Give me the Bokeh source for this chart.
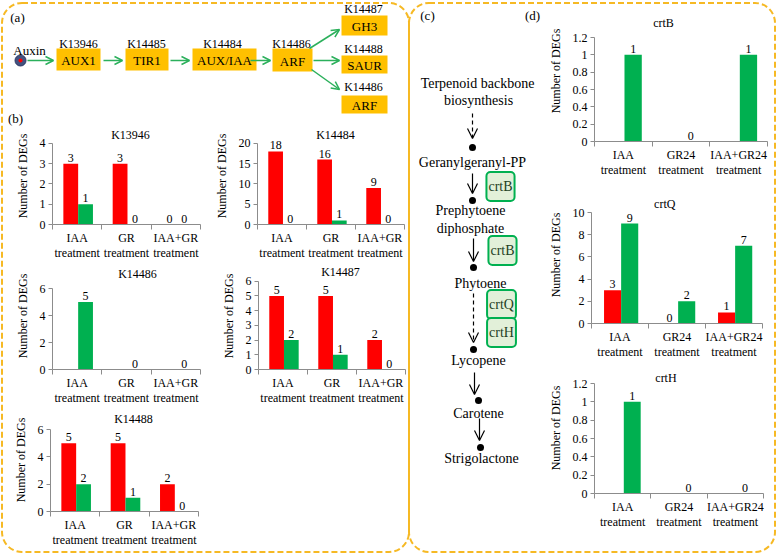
from bokeh.plotting import figure
from bokeh.models import (Range1d, FixedTicker, ColumnDataSource, LabelSet, Label,
                          Arrow, OpenHead)
from bokeh.layouts import row, column
from bokeh.embed import file_html
from bokeh.resources import INLINE
from bokeh.core.properties import value

# ---------------- data ----------------
b_categories = ["IAA\ntreatment", "GR\ntreatment", "IAA+GR\ntreatment"]
d_categories = ["IAA\ntreatment", "GR24\ntreatment", "IAA+GR24\ntreatment"]

K13946_red = [3, 3, 0]
K13946_green = [1, 0, 0]
K14484_red = [18, 16, 9]
K14484_green = [0, 1, 0]
K14486_red = None
K14486_green = [5, 0, 0]
K14487_red = [5, 5, 2]
K14487_green = [2, 1, 0]
K14488_red = [5, 5, 2]
K14488_green = [2, 1, 0]
crtB_red = None
crtB_green = [1, 0, 1]
crtQ_red = [3, 0, 1]
crtQ_green = [9, 2, 7]
crtH_red = None
crtH_green = [1, 0, 0]

ticks_K13946 = [0, 1, 2, 3, 4]
ticks_K14484 = [0, 5, 10, 15, 20]
ticks_K14486 = [0, 2, 4, 6]
ticks_K14487 = [0, 1, 2, 3, 4, 5, 6]
ticks_K14488 = [0, 2, 4, 6]
ticks_crtB = [0, 0.2, 0.4, 0.6, 0.8, 1, 1.2]
ticks_crtQ = [0, 2, 4, 6, 8, 10]
ticks_crtH = [0, 0.2, 0.4, 0.6, 0.8, 1, 1.2]

# pathway (a)
a_boxes_text = ["AUX1", "TIR1", "AUX/IAA", "ARF", "GH3", "SAUR", "ARF"]
a_boxes_left = [56, 125, 192, 272, 341, 341, 341]
a_boxes_right = [100, 168, 256, 312, 387, 387, 387]
a_boxes_top = [48, 48, 48, 48, 15, 55, 95]
a_boxes_bottom = [70, 70, 70, 71, 35, 73, 113]
a_knames = ["K13946", "K14485", "K14484", "K14486", "K14487", "K14488", "K14486"]
a_kx = [78, 146, 222, 291, 363, 363, 363]
a_ky = [43, 43, 43, 43, 8, 48, 86]
a_arrows = [(27, 60, 53, 60), (103, 60, 122, 60), (170, 60, 189, 60), (250, 60, 270, 60),
            (309, 48, 339, 29), (313, 60, 339, 60), (311, 69, 339, 89)]

# pathway (c)
c_texts = ["Terpenoid backbone", "biosynthesis", "Geranylgeranyl-PP", "Prephytoene",
           "diphosphate", "Phytoene", "Lycopene", "Carotene", "Strigolactone"]
c_tx = [477, 478, 472, 470, 470, 480, 478, 478, 481]
c_ty = [83, 100, 162, 210, 228, 283, 360, 413, 458]
c_dot_x = [472, 472, 473, 473, 478, 480]
c_dot_y = [147, 200, 267, 349, 400, 447]
c_arrows = [(472, 113, 138, True), (472, 173, 193, False), (473, 238, 261, False),
            (473, 293, 342, True), (474, 372, 394, False), (479, 418, 440, False)]
c_enzymes = ["crtB", "crtB", "crtQ", "crtH"]
c_ex = [500, 502, 501, 501]
c_ey = [186, 250, 304, 332]

# ---------------- style ----------------
FONT = "'Liberation Serif'"
RED = "#FF0000"
GREEN = "#00B050"
AXIS_GREY = "#8C8C8C"
GOLD = "#FFC000"
ARROW_GREEN = "#2BB05B"
BORDER_GOLD = "%23F6B924"


def canvas(x0, x1, y0, y1):
    p = figure(width=x1 - x0, height=y1 - y0, x_range=Range1d(x0, x1), y_range=Range1d(y1, y0),
               min_border=0, x_axis_location=None, y_axis_location=None,
               outline_line_color=None, toolbar_location=None, output_backend="svg",
               background_fill_color=None, border_fill_color=None)
    p.grid.visible = False
    return p


def bar_chart(title, cats, red, green, yticks, fig_box, fx0, fx1, y0_px, ymax_px, title_xy):
    x0, x1, y0, y1 = fig_box
    n = len(cats)
    ymax = yticks[-1]
    per_unit = (y0_px - ymax_px) / ymax
    y_end = ymax + (ymax_px - y0) / per_unit
    cat_w = (fx1 - fx0) / n
    p = figure(width=x1 - x0, height=y1 - y0, x_range=Range1d(0, n), y_range=Range1d(0, y_end),
               min_border_left=fx0 - x0, min_border_right=x1 - fx1,
               min_border_top=0, min_border_bottom=y1 - y0_px,
               outline_line_color=None, toolbar_location=None, output_backend="svg",
               background_fill_color=None, border_fill_color=None)
    p.grid.visible = False

    centers = [i + 0.5 for i in range(n)]
    p.xaxis.ticker = FixedTicker(ticks=centers, minor_ticks=list(range(n + 1)))
    p.xaxis.major_label_overrides = {c: t for c, t in zip(centers, cats)}
    p.xaxis.major_tick_out = 0
    p.xaxis.major_tick_in = 0
    p.xaxis.minor_tick_out = 5
    p.xaxis.minor_tick_in = 0
    p.xaxis.minor_tick_line_color = AXIS_GREY
    p.xaxis.axis_line_color = AXIS_GREY
    p.xaxis.major_label_standoff = 1
    p.xaxis.axis_label_standoff = 0
    p.xaxis.major_label_text_line_height = 1.1

    p.yaxis.ticker = FixedTicker(ticks=yticks)
    p.yaxis.bounds = (0, ymax)
    p.yaxis.major_label_overrides = {t: f"{t:g}" for t in yticks}
    p.yaxis.major_tick_out = 4
    p.yaxis.major_tick_in = 0
    p.yaxis.minor_tick_out = 0
    p.yaxis.major_tick_line_color = AXIS_GREY
    p.yaxis.axis_line_color = AXIS_GREY
    p.yaxis.major_label_standoff = 3
    p.yaxis.axis_label = "Number of DEGs"
    p.yaxis.axis_label_standoff = 7
    p.yaxis.axis_label_text_font = FONT
    p.yaxis.axis_label_text_font_style = "normal"
    p.yaxis.axis_label_text_font_size = "12px"
    p.yaxis.axis_label_text_color = "black"
    for ax in (p.xaxis, p.yaxis):
        ax.major_label_text_font = FONT
        ax.major_label_text_font_size = "12px"
        ax.major_label_text_color = "black"

    for vals, col, shift in ((red, RED, -0.13), (green, GREEN, 0.17)):
        if vals is None:
            continue
        src = ColumnDataSource(dict(x=[c + shift for c in centers], top=vals,
                                    label=[str(v) for v in vals]))
        p.vbar(x="x", top="top", width=0.3, source=src, fill_color=col, line_color=None)
        p.add_layout(LabelSet(x="x", y="top", text="label", source=src, y_offset=2,
                              text_align="center", text_baseline="bottom",
                              text_font=value(FONT), text_font_size="12px",
                              text_color="black"))
    # chart title, drawn inside the (extended) frame
    tx, ty = title_xy
    p.text(x=[(tx - fx0) / cat_w], y=[(y0_px - ty) / per_unit], text=[title],
           text_align="center", text_baseline="middle", text_font=value(FONT),
           text_font_size="12px", text_color="black")
    return p


# ---------------- panel (a) ----------------
fa = canvas(0, 409, 0, 127)
fa.quad(left=a_boxes_left, right=a_boxes_right, top=a_boxes_top, bottom=a_boxes_bottom,
        fill_color=GOLD, line_color=None)
fa.text(x=[(l + r) / 2 for l, r in zip(a_boxes_left, a_boxes_right)],
        y=[(t + b) / 2 + 1 for t, b in zip(a_boxes_top, a_boxes_bottom)],
        text=a_boxes_text, text_align="center", text_baseline="middle",
        text_font=value(FONT), text_font_size="13px", text_color="black")
fa.text(x=a_kx, y=a_ky, text=a_knames, text_align="center", text_baseline="middle",
        text_font=value(FONT), text_font_size="12px", text_color="black")
for xs, ys, xe, ye in a_arrows:
    fa.add_layout(Arrow(x_start=xs, y_start=ys, x_end=xe, y_end=ye,
                        line_color=ARROW_GREEN, line_width=1.5,
                        end=OpenHead(size=8, line_color=ARROW_GREEN, line_width=1.5)))
fa.scatter([20], [60], size=11, fill_color="#44527F", line_color="#2E3A66")
fa.scatter([20], [60], size=4, fill_color="#FF0000", line_color=None)
fa.text(x=[29, 17, 15], y=[50, 17, 118], text=["Auxin", "(a)", "(b)"], text_align="center",
        text_baseline="middle", text_font=value(FONT), text_font_size="13px",
        text_color="black")

# ---------------- panel (b) ----------------
c1 = bar_chart("K13946", b_categories, K13946_red, K13946_green, ticks_K13946,
               (0, 205, 127, 262), 52, 200, 225, 143, (130, 135))
c2 = bar_chart("K14484", b_categories, K14484_red, K14484_green, ticks_K14484,
               (205, 409, 127, 262), 257, 404, 225, 143, (335, 135))
c3 = bar_chart("K14486", b_categories, K14486_red, K14486_green, ticks_K14486,
               (0, 205, 262, 408), 52, 200, 369, 288, (137, 273))
c4 = bar_chart("K14487", b_categories, K14487_red, K14487_green, ticks_K14487,
               (205, 409, 262, 408), 258, 405, 371, 281, (340, 272))
c5 = bar_chart("K14488", b_categories, K14488_red, K14488_green, ticks_K14488,
               (0, 205, 408, 554), 50, 198, 511, 429, (133, 418))

# ---------------- panel (c) ----------------
fc = canvas(409, 545, 0, 554)
fc.text(x=c_tx, y=c_ty, text=c_texts, text_align="center", text_baseline="middle",
        text_font=value(FONT), text_font_size="14px", text_color="black")
fc.scatter(c_dot_x, c_dot_y, size=7, fill_color="black", line_color=None)
for x, ys, ye, dashed in c_arrows:
    fc.add_layout(Arrow(x_start=x, y_start=ys, x_end=x, y_end=ye, line_color="black",
                        line_width=1.2, line_dash="4 3" if dashed else "solid",
                        end=OpenHead(size=10, line_color="black", line_width=1.2)))
for t, x, y in zip(c_enzymes, c_ex, c_ey):
    fc.add_layout(Label(x=x, y=y, text=t, text_align="center", text_baseline="middle",
                        text_font=FONT, text_font_size="14px", text_color="#24401F",
                        background_fill_color="#E2F0D9", border_line_color=GREEN,
                        border_line_width=2, border_radius=4, padding=(2, 7)))
fc.text(x=[427, 532], y=[15, 15], text=["(c)", "(d)"], text_align="center",
        text_baseline="middle", text_font=value(FONT), text_font_size="13px",
        text_color="black")

# ---------------- panel (d) ----------------
dB = bar_chart("crtB", d_categories, crtB_red, crtB_green, ticks_crtB,
               (545, 776, 0, 186), 589, 767, 141, 37, (660, 22))
dQ = bar_chart("crtQ", d_categories, crtQ_red, crtQ_green, ticks_crtQ,
               (545, 776, 186, 362), 587, 762, 323, 212, (662, 203))
dH = bar_chart("crtH", d_categories, crtH_red, crtH_green, ticks_crtH,
               (545, 776, 362, 554), 588, 763, 493, 383, (662, 377))

# ---------------- dashed panel borders (page background) ----------------
border_svg = ("<svg xmlns='http://www.w3.org/2000/svg' width='777' height='555'>"
              f"<rect x='2' y='3' width='407' height='549' rx='20' ry='20' fill='none' "
              f"stroke='{BORDER_GOLD}' stroke-width='2' stroke-dasharray='6 3'/>"
              f"<rect x='409' y='3' width='366' height='549' rx='20' ry='20' fill='none' "
              f"stroke='{BORDER_GOLD}' stroke-width='2' stroke-dasharray='6 3'/>"
              "</svg>")

# each figure wrapped in its own row so that no frame alignment happens between them
left = column(row(fa), row(c1, c2), row(c3, c4), row(c5))
right = row(row(fc), column(row(dB), row(dQ), row(dH)))
layout = row(left, right, styles={
    "background-color": "white",
    "background-image": f'url("data:image/svg+xml;utf8,{border_svg}")',
    "background-repeat": "no-repeat",
    "background-position": "0 0",
})

open("out.html", "w").write(file_html(layout, INLINE))
